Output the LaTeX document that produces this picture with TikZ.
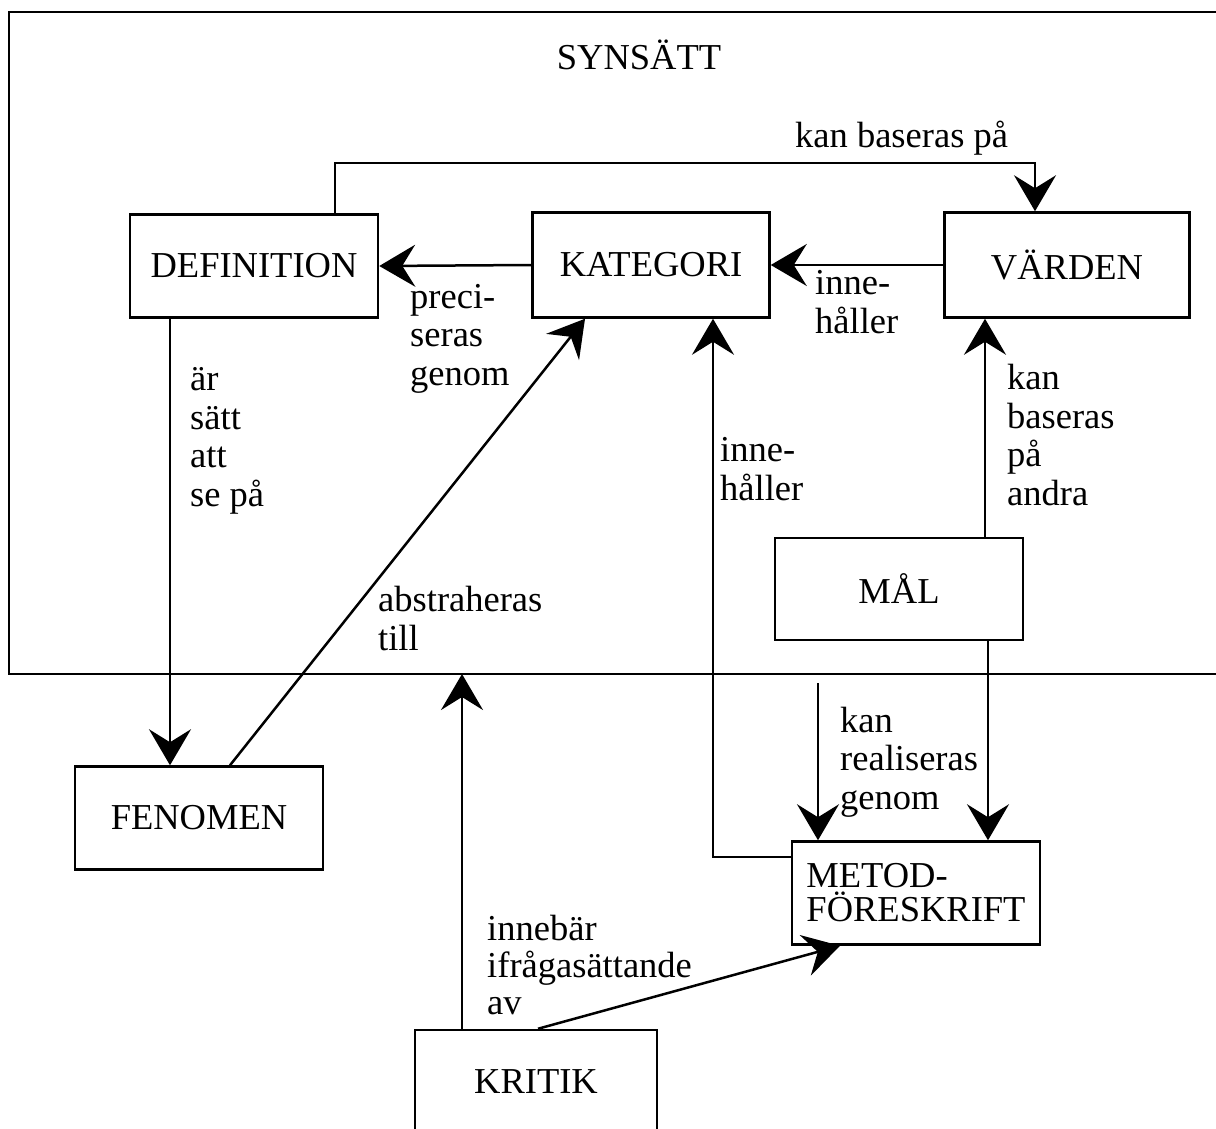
\documentclass[tikz,border=0pt]{standalone}
\usepackage{fontspec}
\setmainfont{Liberation Serif}
\usetikzlibrary{arrows.meta}

\begin{document}
\begin{tikzpicture}[x=1pt, y=-1pt,
    every node/.style={font=\fontsize{36.5}{38.5}\selectfont},
    box/.style={draw, line width=2.5pt, minimum width=248pt, minimum height=103pt, inner sep=0pt},
    lbl/.style={anchor=base west, align=left, inner sep=0pt},
    arr/.style={line width=2.5pt, -{Stealth[length=36pt, width=42pt, inset=13pt]}}]
  \useasboundingbox (0,0) rectangle (1216,1129);

  % Frame
  \node[box, line width=2pt, minimum width=1240pt, minimum height=662pt] (synsatt) at (629,343) {};
  \node (titel) at (639,55) {SYNSÄTT};
  \coordinate (synut) at (818,683);
  \coordinate (synin) at (462,674);

  % Nodes
  \node[box] (def) at (254,266) {DEFINITION};
  \node[box, minimum width=237pt, minimum height=105pt] (kat) at (651,265) {KATEGORI};
  \node[box, minimum width=245pt, minimum height=105pt] (var) at (1067,265) {VÄRDEN};
  \node[box, minimum height=102pt] (mal) at (899,589) {MÅL};
  \node[box] (fen) at (199,818) {FENOMEN};
  \node[box, align=left, font=\fontsize{36.5}{34}\selectfont] (met) at (916,893) {METOD-\\FÖRESKRIFT};
  \node[box, minimum width=242pt, minimum height=104pt] (krit) at (536,1082) {KRITIK};

  % Links
  \draw[arr] ([xshift=81pt]def.north) -- ++(0,-50) -| ([xshift=-32pt]var.north);
  \draw[arr] (kat.west) -- (def.east);
  \draw[arr] (var.west) -- (kat.east);
  \draw[arr] ([xshift=-84pt]def.south) -- ([xshift=-84pt]def.south |- fen.north);
  \draw[arr] ([xshift=31pt]fen.north) -- ([xshift=-66pt]kat.south);
  \draw[arr] ([yshift=36pt]met.west) -| ([xshift=62pt]kat.south);
  \draw[arr] ([xshift=86pt]mal.north) -- ([xshift=86pt]mal.north |- var.south);
  \draw[arr] ([xshift=89pt]mal.south) -- ([xshift=89pt]mal.south |- met.north);
  \draw[arr] (synut) -- (synut |- met.north);
  \draw[arr] (krit.north -| synin) -- (synin);
  \draw[arr] ([xshift=2pt]krit.north) -- ([xshift=-76pt]met.south);

  % Labels (base = last line)
  \node[lbl] (lbaseras) at (795,148) {kan baseras på};
  \node[lbl] (lpreci) at (410,385) {preci-\\seras\\genom};
  \node[lbl] (linne) at (815,333) {inne-\\håller};
  \node[lbl] (lsatt) at (190,506) {är\\sätt\\att\\se på};
  \node[lbl] (labstr) at (378,650) {abstraheras\\till};
  \node[lbl] (linne2) at (720,500) {inne-\\håller};
  \node[lbl] (landra) at (1007,505) {kan\\baseras\\på\\andra};
  \node[lbl] (lreal) at (840,809) {kan\\realiseras\\genom};
  \node[lbl, font=\fontsize{36.5}{37}\selectfont] (lkritik) at (487,1014) {innebär\\ifrågasättande\\av};
\end{tikzpicture}
\end{document}
